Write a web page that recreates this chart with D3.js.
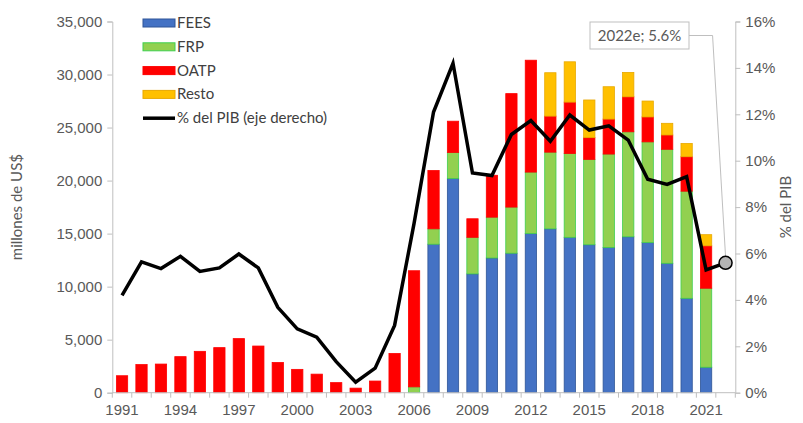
<!DOCTYPE html>
<html>
<head>
<meta charset="utf-8">
<script src="https://cdn.jsdelivr.net/npm/d3@7"></script>
<style>
  html, body { margin: 0; padding: 0; background: #fff; }
  svg { display: block; font-family: Lato, "Open Sans", sans-serif; }
</style>
</head>
<body>
<div id="chart"></div>
<script>
// Años (categorías del eje x)
const years = [1991, 1992, 1993, 1994, 1995, 1996, 1997, 1998, 1999, 2000, 2001, 2002,
  2003, 2004, 2005, 2006, 2007, 2008, 2009, 2010, 2011, 2012, 2013, 2014, 2015, 2016,
  2017, 2018, 2019, 2020, 2021, 2022]
const yearLabels = [1991, 1994, 1997, 2000, 2003, 2006, 2009, 2012, 2015, 2018, 2021]

// millones de US$
const fees = [0, 0, 0, 0, 0, 0, 0, 0, 0, 0, 0, 0, 0, 0, 0, 0,
  14000, 20200, 11200, 12700, 13150, 15000, 15450, 14650, 13950, 13700,
  14700, 14150, 12200, 8900, 2400, 0]
const frp = [0, 0, 0, 0, 0, 0, 0, 0, 0, 0, 0, 0, 0, 0, 0, 550,
  1450, 2450, 3450, 3850, 4350, 5800, 7230, 7900, 8050, 8800,
  9900, 9500, 10750, 10100, 7450, 0]
const oatp = [1600, 2650, 2700, 3400, 3900, 4250, 5100, 4400, 2850, 2200, 1750, 950,
  430, 1100, 3700, 10950, 5500, 2950, 1750, 3950, 10700, 10550, 3400, 4850, 2050, 3300,
  3300, 2350, 1350, 3250, 4000, 0]
const resto = [0, 0, 0, 0, 0, 0, 0, 0, 0, 0, 0, 0, 0, 0, 0, 0,
  0, 0, 0, 0, 0, 0, 4090, 3800, 3550, 3050,
  2300, 1500, 1100, 1250, 1050, 0]

// % del PIB (eje derecho); 2022 es estimación
const pib = [4.2, 5.64, 5.35, 5.88, 5.23, 5.38, 5.98, 5.38, 3.68, 2.75, 2.39, 1.34,
  0.45, 1.06, 2.9, 7.3, 12.1, 14.2, 9.47, 9.36, 11.13, 11.73, 10.84, 11.97, 11.32, 11.5,
  10.89, 9.2, 8.98, 9.31, 5.29, 5.6]

const leftTicks = [0, 5000, 10000, 15000, 20000, 25000, 30000, 35000]
const rightTicks = [0, 2, 4, 6, 8, 10, 12, 14, 16]

const seriesKeys = ['FEES', 'FRP', 'OATP', 'Resto']
const seriesFill = { FEES: '#4472c4', FRP: '#92d050', OATP: '#ff0000', Resto: '#ffc000' }
const seriesStroke = { FEES: '#2f5597', FRP: '#3fcf4f', OATP: '#ff0000', Resto: '#e8a800' }

const W = 803, H = 423
const plot = { left: 112.3, right: 735.3, top: 21.5, bottom: 392.7 }
const axisColor = '#bfbfbf'
const textColor = '#595959'

const rows = years.map((y, i) => ({
  year: y, FEES: fees[i], FRP: frp[i], OATP: oatp[i], Resto: resto[i], pib: pib[i],
}))

const svg = d3.select('#chart').append('svg')
  .attr('width', W)
  .attr('height', H)

const x = d3.scaleBand()
  .domain(years)
  .range([plot.left, plot.right])
  .paddingInner(0.42)
  .paddingOuter(0.21)

const y = d3.scaleLinear().domain([0, 35000]).range([plot.bottom, plot.top])
const y2 = d3.scaleLinear().domain([0, 16]).range([plot.bottom, plot.top])

// Stacked bars
const stacked = d3.stack().keys(seriesKeys)(rows)

svg.append('g')
  .selectAll('g')
  .data(stacked)
  .join('g')
  .attr('fill', d => seriesFill[d.key])
  .attr('stroke', d => seriesStroke[d.key])
  .attr('stroke-width', 0.8)
  .selectAll('rect')
  .data(d => d.filter(s => s[1] - s[0] > 0))
  .join('rect')
  .attr('x', d => x(d.data.year))
  .attr('width', x.bandwidth())
  .attr('y', d => y(d[1]))
  .attr('height', d => y(d[0]) - y(d[1]))

// Left axis
const yAxis = svg.append('g')
  .attr('transform', `translate(${plot.left},0)`)
  .call(d3.axisLeft(y).tickValues(leftTicks).tickSize(5).tickPadding(5)
    .tickFormat(d3.format(',')))
yAxis.select('.domain').attr('stroke', axisColor)
yAxis.selectAll('.tick line').attr('stroke', axisColor)
yAxis.selectAll('text').attr('fill', textColor).style('font-size', '15px')

// Right axis
const y2Axis = svg.append('g')
  .attr('transform', `translate(${plot.right},0)`)
  .call(d3.axisRight(y2).tickValues(rightTicks).tickSize(5).tickPadding(5)
    .tickFormat(d => d + '%'))
y2Axis.select('.domain').attr('stroke', axisColor)
y2Axis.selectAll('.tick line').attr('stroke', axisColor)
y2Axis.selectAll('text').attr('fill', textColor).style('font-size', '15px')

// Bottom axis: labels every three years, ticks at category boundaries
const xAxis = svg.append('g')
  .attr('transform', `translate(0,${plot.bottom})`)
  .call(d3.axisBottom(x).tickValues(yearLabels).tickSize(0).tickPadding(12))
xAxis.select('.domain').remove()
xAxis.selectAll('text').attr('fill', textColor).style('font-size', '15px')

const half = x.step() * x.paddingInner() / 2
const edges = years.map(d => x(d) - half).concat([plot.right])
svg.append('line')
  .attr('x1', plot.left).attr('x2', plot.right)
  .attr('y1', plot.bottom).attr('y2', plot.bottom)
  .attr('stroke', axisColor)
svg.append('g')
  .selectAll('line')
  .data(edges)
  .join('line')
  .attr('x1', d => d).attr('x2', d => d)
  .attr('y1', plot.bottom).attr('y2', plot.bottom + 5)
  .attr('stroke', axisColor)

// Axis titles
svg.append('text')
  .attr('transform', `translate(22,${(plot.top + plot.bottom) / 2}) rotate(-90)`)
  .attr('text-anchor', 'middle')
  .attr('fill', textColor)
  .style('font-size', '15px')
  .text('millones de US$')

svg.append('text')
  .attr('transform', `translate(791,${(plot.top + plot.bottom) / 2}) rotate(-90)`)
  .attr('text-anchor', 'middle')
  .attr('fill', textColor)
  .style('font-size', '15px')
  .text('% del PIB')

// % del PIB line
const cx = d => x(d.year) + x.bandwidth() / 2
const line = d3.line().x(cx).y(d => y2(d.pib))

svg.append('path')
  .datum(rows)
  .attr('fill', 'none')
  .attr('stroke', '#000')
  .attr('stroke-width', 3.5)
  .attr('stroke-linejoin', 'miter')
  .attr('d', line)

// Annotation for the estimate
const last = rows[rows.length - 1]
const lx = cx(last), ly = y2(last.pib)
const boxX = 590, boxY = 22, boxW = 99, boxH = 27

svg.append('polyline')
  .attr('points', [[boxX + boxW, boxY + boxH / 2], [lx - 13, boxY + boxH / 2], [lx, ly - 6]].join(' '))
  .attr('fill', 'none')
  .attr('stroke', '#bfbfbf')
  .attr('stroke-width', 1)

svg.append('rect')
  .attr('x', boxX).attr('y', boxY)
  .attr('width', boxW).attr('height', boxH)
  .attr('fill', '#fff')
  .attr('stroke', '#bfbfbf')

svg.append('text')
  .attr('x', boxX + boxW / 2).attr('y', boxY + boxH / 2 + 5)
  .attr('text-anchor', 'middle')
  .attr('fill', textColor)
  .style('font-size', '15px')
  .text(`${last.year}e; ${last.pib}%`)

svg.append('circle')
  .attr('cx', lx).attr('cy', ly)
  .attr('r', 6.5)
  .attr('fill', '#b4b4b4')
  .attr('stroke', '#000')
  .attr('stroke-width', 1.5)

// Legend
const legendItems = seriesKeys.map(k => ({ label: k, type: 'bar', key: k }))
  .concat([{ label: '% del PIB (eje derecho)', type: 'line' }])

const legend = svg.append('g').attr('transform', 'translate(143,23)')
const item = legend.selectAll('g')
  .data(legendItems)
  .join('g')
  .attr('transform', (d, i) => `translate(0,${i * 23.8})`)

item.filter(d => d.type === 'bar')
  .append('rect')
  .attr('x', 0).attr('y', -4)
  .attr('width', 32).attr('height', 8)
  .attr('fill', d => seriesFill[d.key])
  .attr('stroke', d => seriesStroke[d.key])
  .attr('stroke-width', 1)

item.filter(d => d.type === 'line')
  .append('line')
  .attr('x1', 0).attr('x2', 32)
  .attr('y1', 0).attr('y2', 0)
  .attr('stroke', '#000')
  .attr('stroke-width', 3.5)

item.append('text')
  .attr('x', 34).attr('y', 5)
  .attr('fill', '#404040')
  .style('font-size', '15px')
  .text(d => d.label)
</script>
</body>
</html>
